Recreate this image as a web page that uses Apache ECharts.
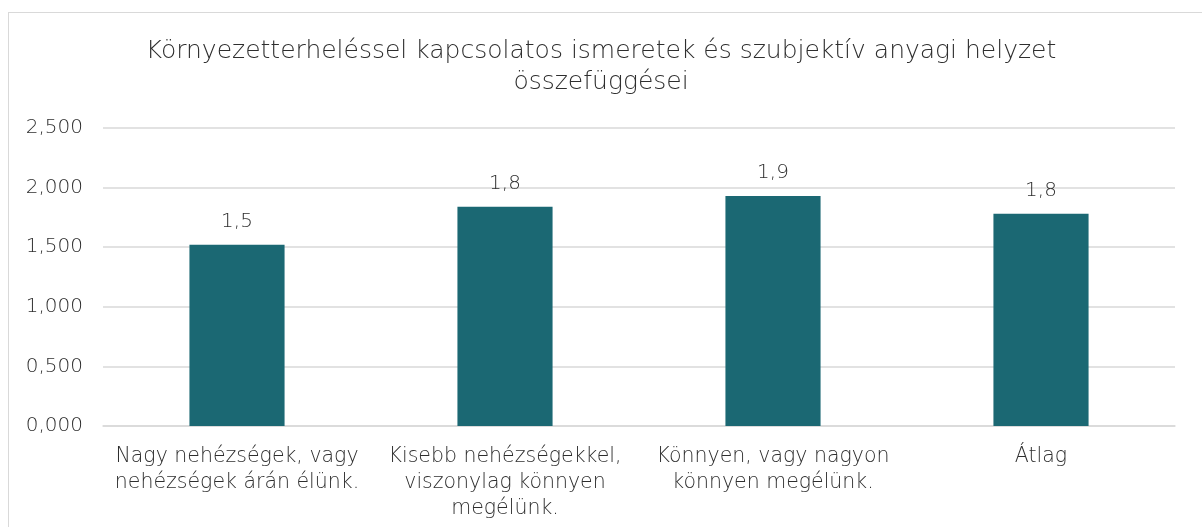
<!DOCTYPE html>
<html><head><meta charset="utf-8">
<script src="https://cdn.jsdelivr.net/npm/echarts@6/dist/echarts.min.js"></script>
<style>
html,body{margin:0;padding:0;background:#fff;}
#frame{position:absolute;left:8px;top:12px;width:1200px;height:520px;border:1px solid #d9d9d9;box-sizing:border-box;}
#c{position:absolute;left:0;top:0;width:1202px;height:527px;}
</style></head>
<body>
<div id="frame"></div>
<div id="c"></div>
<script>
const titleText = 'Környezetterheléssel kapcsolatos ismeretek és szubjektív anyagi helyzet\nösszefüggései';
const categories = ['Nagy nehézségek, vagy\nnehézségek árán élünk.', 'Kisebb nehézségekkel,\nviszonylag könnyen\nmegélünk.', 'Könnyen, vagy nagyon\nkönnyen megélünk.', 'Átlag'];
const values = [1.52, 1.84, 1.93, 1.78];
const yMin = 0, yMax = 2.5, yStep = 0.5;

const font = '"DejaVu Sans", sans-serif';
const fw = 200;
const txt = '#2e2e2e';
const chart = echarts.init(document.getElementById('c'), null, {renderer:'canvas'});
chart.setOption({
  animation:false,
  backgroundColor:'transparent',
  title:{text:titleText,left:'center',top:31,textStyle:{fontFamily:font,fontSize:25,fontWeight:fw,color:txt,lineHeight:31}},
  grid:{left:103,right:27,top:128,bottom:101,containLabel:false},
  xAxis:{type:'category',data:categories,
    axisLine:{lineStyle:{color:'#d9d9d9',width:1.5}},axisTick:{show:false},
    axisLabel:{fontFamily:font,fontSize:20.5,fontWeight:fw,color:txt,lineHeight:26,margin:18,interval:0}},
  yAxis:{type:'value',min:yMin,max:yMax,interval:yStep,
    axisLine:{show:false},axisTick:{show:false},
    splitLine:{lineStyle:{color:'#d9d9d9',width:1.5}},
    axisLabel:{fontFamily:font,fontSize:20,fontWeight:fw,color:txt,margin:20,formatter:v=>v.toFixed(3).replace('.',',')}},
  series:[{type:'bar',data:values,barWidth:'35.5%',itemStyle:{color:'#1b6873'},
    label:{show:true,position:'top',distance:13,fontFamily:font,fontSize:20,fontWeight:fw,color:txt,formatter:p=>p.value.toFixed(1).replace('.',',')}}]
});
</script>
</body></html>
